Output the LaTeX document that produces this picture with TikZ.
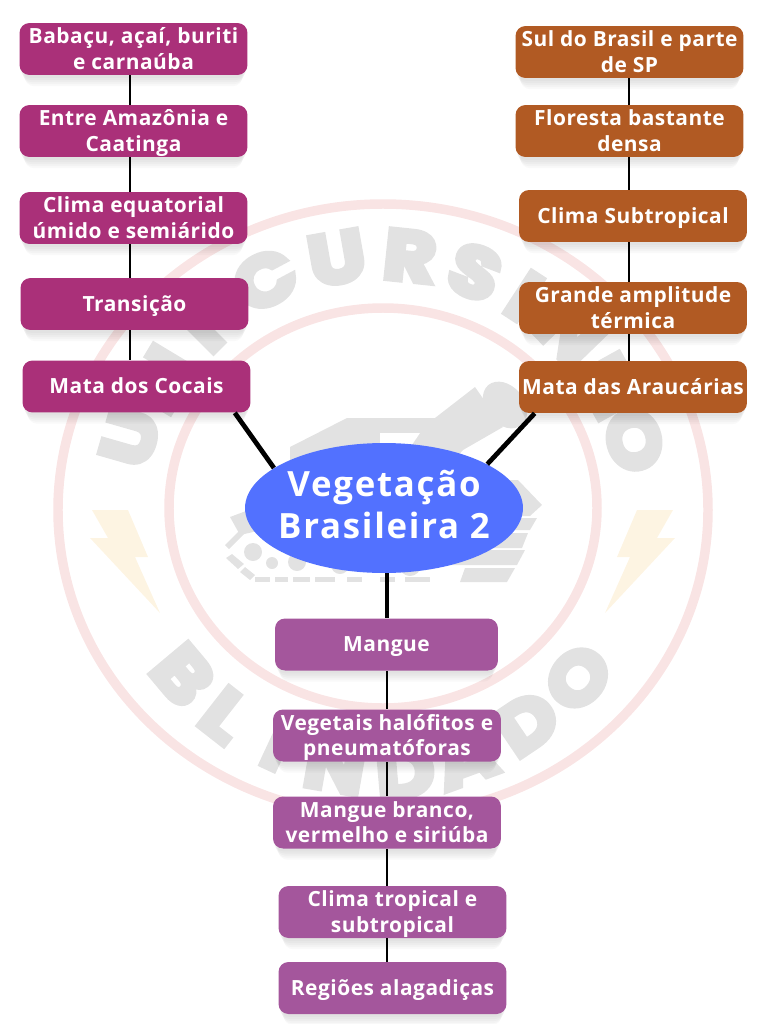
\documentclass[tikz,border=0pt]{standalone}
\usepackage{fontspec}
\usetikzlibrary{shapes.geometric,shadows}
\setmainfont{Open Sans}
\newfontfamily\marcafont{Poppins}[FakeStretch=1.15, BoldFeatures={FakeBold=8}]
\definecolor{roxo}{HTML}{AA3079}
\definecolor{laranja}{HTML}{B15A23}
\definecolor{lilas}{HTML}{A4569C}
\definecolor{azul}{HTML}{5271FF}
\definecolor{anel}{HTML}{F9E4E4}
\definecolor{raio}{HTML}{FDF4E2}
\definecolor{cinza}{HTML}{E2E2E2}
\tikzset{
  sombra/.style={
    general shadow={fill=black, opacity=.025, shadow yshift=-.06cm, shadow scale=.995},
    general shadow={fill=black, opacity=.025, shadow yshift=-.11cm, shadow scale=.985},
    general shadow={fill=black, opacity=.025, shadow yshift=-.16cm, shadow scale=.975},
    general shadow={fill=black, opacity=.025, shadow yshift=-.21cm, shadow scale=.965},
    general shadow={fill=black, opacity=.025, shadow yshift=-.26cm, shadow scale=.955}},
  caixa/.style={rectangle, rounded corners=.2cm, sombra, text=white, align=center,
    minimum width=4.56cm, minimum height=1.04cm, inner sep=0pt, text depth=0pt,
    font=\addfontfeatures{LetterSpace=2.5}\fontsize{11.9}{14.6}\selectfont\bfseries},
  uma/.style={text height=8.5pt},
  duas/.style={text height=23.3pt},
  oval/.style={ellipse, fill=azul, text=white, align=center, inner sep=-1cm,
    minimum width=5.56cm, minimum height=2.6cm,
    execute at end node=\rule[-4.5pt]{0pt}{0pt},
    font=\addfontfeatures{LetterSpace=5}\fontsize{19.8}{24}\selectfont\bfseries},
  fino/.style={line width=1.3pt},
  grosso/.style={line width=2.7pt},
  marca/.style={text=cinza, inner sep=0pt, font=\marcafont\fontsize{40}{40}\selectfont\bfseries}
}
\begin{document}
\begin{tikzpicture}[x=0.02cm, y=-0.02cm]
  \useasboundingbox (0, 0) rectangle (768, 1024);
  % Watermark
  \draw[anel, line width=5.4pt] (383, 510) ellipse [x radius=325, y radius=306];
  \draw[anel, line width=5.4pt] (383, 508) ellipse [x radius=214, y radius=200];
  \foreach \letra/\cx/\cy/\rot [count=\i] in {U/130/437/74, N/162/379/59, I/201/330/45, C/265/280/28,
    U/337/258/10, R/410/256/-6, S/475/272/-21, I/524/296/-33, N/569/333/-46, H/609/386/-61, O/634/440/-75}
    \node (cima\i) [marca, rotate=\rot] at (\cx, \cy) {\letra};
  \foreach \letra/\cx/\cy/\rot [count=\i] in {B/183/675/-50, L/225/715/-38, I/278/745/-25, N/335/766/-10,
    D/405/772/5, A/465/758/20, D/527/723/34, O/578/678/49}
    \node (baixo\i) [marca, rotate=\rot] at (\cx, \cy) {\letra};
  \fill[raio] (92,510) -- (128,510) -- (148,557) -- (135,557) -- (160,613) -- (90,538) -- (108,538) -- cycle;
  \fill[raio] (637,510) -- (673,510) -- (657,538) -- (675,538) -- (605,613) -- (630,557) -- (617,557) -- cycle;
  % Tank
  \fill[cinza, rotate around={40:(505,405)}] (505, 405) ellipse [x radius=19, y radius=26];
  \fill[cinza] (475,387) -- (503,427) -- (463,450) -- (445,470) -- (290,470) -- (290,447) -- (347,418) -- (435,418) -- cycle;
  \fill[white] (380,433) -- (420,433) -- (405,455) -- (380,455) -- cycle;
  \fill[cinza] (518,480) -- (542,505) -- (530,516) -- (440,516) -- (440,480) -- cycle;
  \fill[cinza] (440,518) -- (537,518) -- (530,530) -- (440,530) -- cycle;
  \fill[cinza] (440,533) -- (528,533) -- (522,548) -- (440,548) -- cycle;
  \fill[cinza] (440,550) -- (525,550) -- (517,565) -- (440,565) -- cycle;
  \fill[cinza] (465,568) -- (515,568) -- (507,582) -- (460,582) -- cycle;
  \fill[cinza] (230,517) -- (262,505) -- (262,530) -- (240,535) -- cycle;
  \fill[cinza] (253, 552) circle [radius=9];
  \fill[cinza] (272, 563) circle [radius=6];
  \fill[cinza] (297, 562) circle [radius=9];
  \fill[cinza] (340, 565) circle [radius=9];
  \fill[cinza] (410, 565) circle [radius=11];
  \fill[cinza] (225,545) -- (240,530) -- (244,534) -- (229,549) -- cycle;
  \fill[cinza] (226,558) -- (232,554) -- (244,564) -- (238,569) -- cycle;
  \fill[cinza] (240,572) -- (245,567) -- (255,575) -- (250,580) -- cycle;
  \foreach \xa/\xb in {255/270, 275/288, 293/310, 315/335, 347/362, 380/395, 405/430}
    \fill[cinza] (\xa,577) rectangle (\xb,582);
  % Nodes
  \node (l1) [caixa, duas, fill=roxo] at (133.5, 49) {Babaçu, açaí, buriti\\e carnaúba};
  \node (l2) [caixa, duas, fill=roxo] at (133.5, 131) {Entre Amazônia e\\Caatinga};
  \node (l3) [caixa, duas, fill=roxo] at (133.5, 218) {Clima equatorial\\úmido e semiárido};
  \node (l4) [caixa, uma, fill=roxo] at (134.5, 304) {Transição};
  \node (l5) [caixa, uma, fill=roxo] at (136.5, 386.5) {Mata dos Cocais};
  \node (r1) [caixa, duas, fill=laranja] at (629.5, 52) {Sul do Brasil e parte\\de SP};
  \node (r2) [caixa, duas, fill=laranja] at (629.5, 131) {Floresta bastante\\densa};
  \node (r3) [caixa, uma, fill=laranja] at (633, 216) {Clima Subtropical};
  \node (r4) [caixa, duas, fill=laranja] at (633, 308) {Grande amplitude\\térmica};
  \node (r5) [caixa, uma, fill=laranja] at (633, 387) {Mata das Araucárias};
  \node (v) [oval] at (384, 508) {Vegetação\\Brasileira 2};
  \node (m1) [caixa, uma, fill=lilas, minimum width=4.46cm] at (386.5, 644.5) {Mangue};
  \node (m2) [caixa, duas, fill=lilas] at (387, 735.5) {Vegetais halófitos e\\pneumatóforas};
  \node (m3) [caixa, duas, fill=lilas] at (387, 822.5) {Mangue branco,\\vermelho e siriúba};
  \node (m4) [caixa, duas, fill=lilas] at (392.5, 912) {Clima tropical e\\subtropical};
  \node (m5) [caixa, uma, fill=lilas] at (392.5, 988) {Regiões alagadiças};
  % Lines
  \coordinate (lx) at (130, 0);
  \coordinate (rx) at (629, 0);
  \coordinate (mx) at (387, 0);
  \foreach \a/\b in {l1/l2, l2/l3, l3/l4, l4/l5}
    \draw[fino] (\a.south -| lx) -- (\b.north -| lx);
  \foreach \a/\b in {r1/r2, r2/r3, r3/r4, r4/r5}
    \draw[fino] (\a.south -| rx) -- (\b.north -| rx);
  \foreach \a/\b in {m1/m2, m2/m3, m3/m4, m4/m5}
    \draw[fino] (\a.south -| mx) -- (\b.north -| mx);
  \draw[grosso] (l5.-15.5) -- (v.160);
  \draw[grosso] (r5.195.4) -- (v.23);
  \draw[grosso] (v.south -| mx) -- (m1.north -| mx);
\end{tikzpicture}
\end{document}
